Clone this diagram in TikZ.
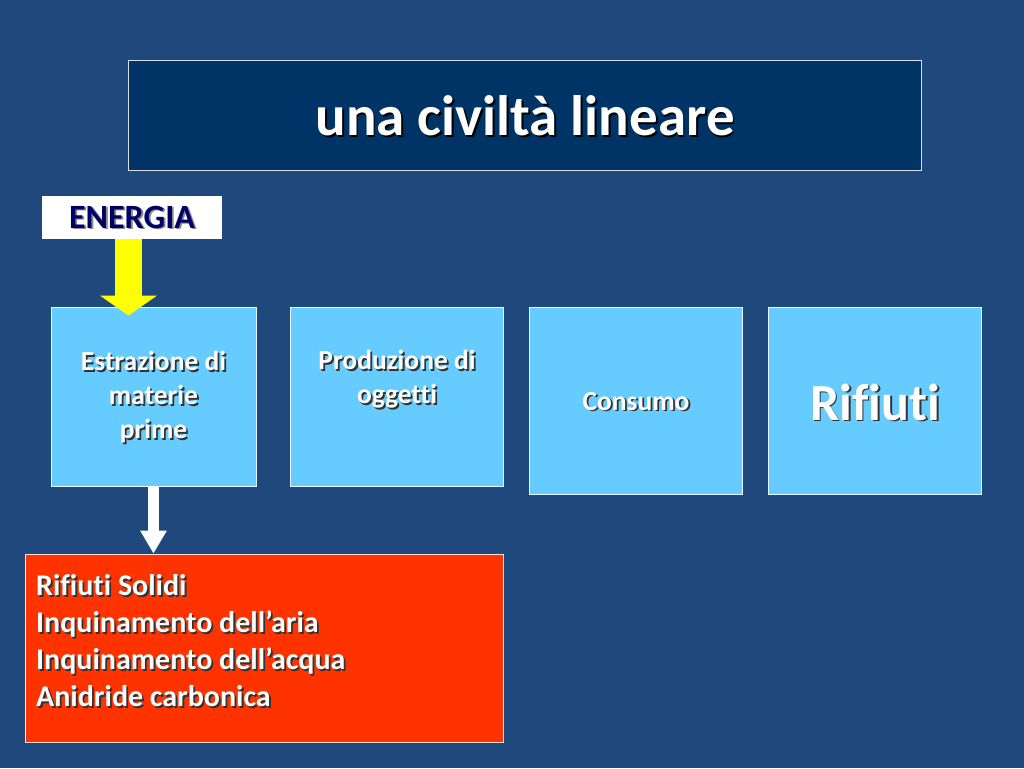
\documentclass[tikz,border=0pt]{standalone}
\usepackage{fontspec}
\setmainfont{Carlito}[Ligatures={NoCommon,NoRare,NoContextual}]
\usetikzlibrary{arrows.meta}
\definecolor{bg}{RGB}{31,73,125}
\definecolor{navy}{RGB}{0,51,102}
\definecolor{lblue}{RGB}{102,204,255}
\definecolor{redbox}{RGB}{255,51,0}
\definecolor{engtext}{RGB}{0,0,102}
\definecolor{arrowyel}{RGB}{255,255,0}
\newcommand{\sht}[2][black!80]{\leavevmode\rlap{\kern1.8pt\raisebox{-1.8pt}{\textcolor{#1}{#2}}}#2}
\tikzset{
  panel/.style={draw=white!85!lblue, line width=0.8pt, fill=lblue, minimum width=205pt, minimum height=179pt, inner sep=0pt},
  lbl/.style={text=white, font=\bfseries\fontsize{27.5}{34}\selectfont, align=center, inner sep=0pt},
}
\begin{document}
\begin{tikzpicture}[x=1pt,y=-1pt]
\fill[bg] (0,0) rectangle (1024,768);
\useasboundingbox (0,0) rectangle (1024,768);
% title
\node[draw=white!85!navy, line width=0.8pt, fill=navy, minimum width=793pt, minimum height=110pt, inner sep=0pt] (title) at (524.5,115) {};
\node[text=white, font=\bfseries\fontsize{57}{66}\selectfont, inner sep=0pt] (titletext) at (525,117) {\sht[black]{una civiltà lineare}};
% energia
\node[fill=white, minimum width=180pt, minimum height=43pt, inner sep=0pt] (energia) at (132,217.5) {};
\node[text=engtext, font=\bfseries\fontsize{34}{40}\selectfont, inner sep=0pt] (energiatext) at (132,218) {\sht[black!45]{ENERGIA}};
% panels
\node[panel, minimum width=205pt, minimum height=179pt] (box1) at (153.5,396.5) {};
\node[panel, minimum width=213pt, minimum height=179pt] (box2) at (396.5,396.5) {};
\node[panel, minimum width=213pt, minimum height=187pt] (box3) at (635.5,400.5) {};
\node[panel, minimum width=213pt, minimum height=187pt] (box4) at (874.5,400.5) {};
\node[lbl] (t1) at (153.5,398) {\sht{Estrazione di}\\\sht{materie}\\\sht{prime}};
\node[lbl] (t2) at (397,380) {\sht{Produzione di}\\\sht{oggetti}};
\node[lbl] (t3) at (636,402) {\sht{Consumo}};
\node[lbl, font=\bfseries\fontsize{52}{58}\selectfont] (t4) at (875,403) {\sht{Rifiuti}};
% red box
\node[draw=white!85!redbox, line width=0.8pt, fill=redbox, minimum width=478pt, minimum height=188pt, inner sep=0pt] (red) at (264,648) {};
\node[anchor=north west, text=white, font=\bfseries\fontsize{30}{37}\selectfont, align=left, inner sep=0pt] (redtext) at (36,574)
  {\sht{Rifiuti Solidi}\\\sht{Inquinamento dell’aria}\\\sht{Inquinamento dell’acqua}\\\sht{Anidride carbonica}};
% arrows
\draw[arrowyel, line width=27pt, -{Triangle[width=56pt,length=20pt]}, shorten >=-9pt]
  ([xshift=-3.5pt]energia.south) -- ([xshift=-25pt]box1.north);
\draw[white, line width=11pt, -{Triangle[width=25pt,length=23pt]}]
  (box1.south) -- ([xshift=-110.5pt]red.north);
\end{tikzpicture}
\end{document}
